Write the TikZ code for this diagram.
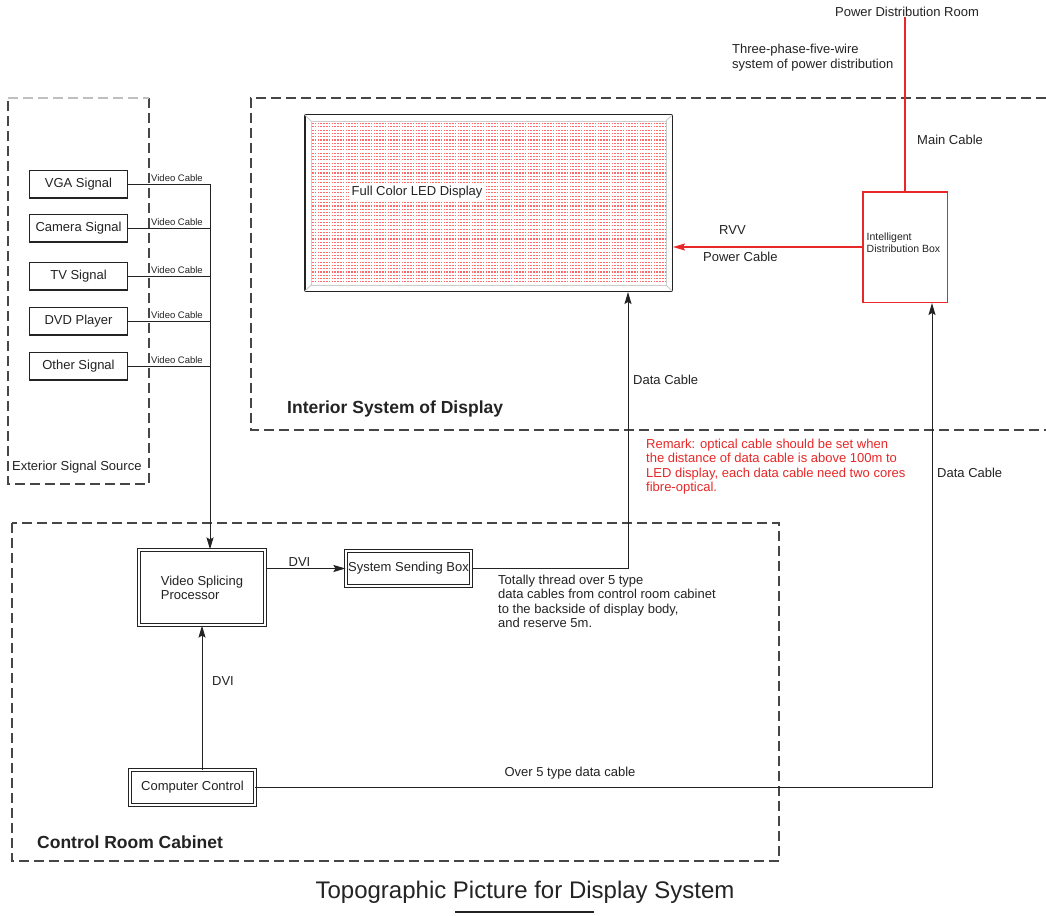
\documentclass[tikz,border=0pt]{standalone}
\usepackage{fontspec}
\setmainfont{Liberation Sans}
\usetikzlibrary{arrows.meta}
\definecolor{rd}{RGB}{232,40,40}
\definecolor{dk}{RGB}{35,35,35}
\definecolor{dsh}{RGB}{70,70,70}
\definecolor{ledred}{RGB}{255,105,105}
\begin{document}
\begin{tikzpicture}[x=1pt,y=-1pt,
  every node/.style={font=\fontsize{13}{14.3}\selectfont, inner sep=0pt, text=dk},
  sig/.style={draw=dk, line width=1.2pt, minimum width=97.8pt, minimum height=27.8pt},
  dbox/.style={draw=dk, double=white, line width=1pt, double distance=1.8pt},
  zone/.style={draw=dsh, line width=1.6pt, dash pattern=on 10pt off 5pt},
  wire/.style={draw=dk, line width=1pt},
  tip/.style={-{Stealth[length=12pt,width=7pt,inset=2pt]}},
  arr/.style={wire, tip},
  small/.style={font=\fontsize{9.5}{11}\selectfont},
  zlabel/.style={font=\fontsize{17.5}{20}\selectfont\bfseries, anchor=west},
  rtxt/.style={text=rd}
]
\useasboundingbox (0,0) rectangle (1046,915);
\fill[white] (0,0) rectangle (1046,915);

% zones
\draw[zone] (1046,98) -- (251,98) -- (251,430) -- (1046,430);
\draw[zone] (12,523) rectangle (779,861);
\draw[zone] (149,98) -- (149,484) -- (8,484) -- (8,98);
\draw[zone, draw=black!25] (8,98) -- (149,98);

% LED display
\node[draw=dk, line width=1.5pt, minimum width=367.5pt, minimum height=176.5pt] (led) at (488.5,203) {};
\foreach \yy in {123.5,126.8,...,284}
  \draw[ledred, line width=1.15pt, dash pattern=on 1.5pt off 1.3pt] (312,\yy) -- (665,\yy);
\draw[black!20, line width=0.8pt] (311,121) rectangle (666,285);
\draw[black!20, line width=0.8pt] (304,114) -- (311,121) (673,114) -- (666,121)
  (304,292) -- (311,285) (673,292) -- (666,285);
\node[fill=white, inner sep=2.5pt, anchor=west] (ledtxt) at (349,192) {Full Color LED Display};

% signal sources
\node[sig] (vga) at (78.5,184) {VGA Signal};
\node[sig] (cam) at (78.5,228) {Camera Signal};
\node[sig] (tv) at (78.5,276) {TV Signal};
\node[sig] (dvd) at (78.5,321) {DVD Player};
\node[sig] (oth) at (78.5,366) {Other Signal};
\coordinate (bus) at (210,0);

% control room
\node[dbox, minimum width=126.2pt, minimum height=75.2pt, align=left] (vsp) at (202,587.5) {Video Splicing\\Processor};
\node[dbox, minimum width=125.2pt, minimum height=35.2pt] (ssb) at (408.5,568.5) {System Sending Box};
\node[dbox, line width=1.3pt, minimum width=124.6pt, minimum height=34.6pt] (cc) at (192.5,787.5) {Computer Control};

% distribution
\node (pdr) at (907,12) {Power Distribution Room};
\node[draw=rd, line width=1.5pt, minimum width=84.5pt, minimum height=110.5pt] (idb) at (905,247) {};
\node[font=\fontsize{10.5}{12}\selectfont, align=left, anchor=west] (idbtxt) at ([shift={(4.5pt,4.5pt)}]idb.west) {Intelligent\\Distribution Box};

% video cables
\foreach \s in {vga,cam,tv,dvd,oth}{
  \draw[wire] (\s.east) -- (\s.east -| bus);
  \node[small, anchor=south west] at ([shift={(23pt,2pt)}]\s.east) {Video Cable};
}
\draw[arr] (vga.east -| bus) -- (bus |- vsp.north);

% connectors
\draw[arr] (vsp.east |- ssb.west) -- (ssb.west);
\draw[arr] (vsp.south |- cc.north) -- (vsp.south);
\coordinate (dcx) at (628,0);
\draw[arr] (ssb.east) -| (dcx |- led.south);
\coordinate (dcx2) at (932,0);
\draw[arr] (cc.east) -| (dcx2 |- idb.south);
\draw[rd, line width=1.5pt] (idb.north |- pdr.south) -- (idb.north);
\draw[rd, line width=1.5pt, tip] (idb.west) -- (idb.west -| led.east);

% labels
\node[anchor=west, align=left] at (732,57.5) {Three-phase-five-wire\\system of power distribution};
\node[anchor=west] at (917,140) {Main Cable};
\node[anchor=west] at (719,230) {RVV};
\node[anchor=west] at (703,257) {Power Cable};
\node[anchor=west] at (633,380) {Data Cable};
\node[anchor=west] at (937,473) {Data Cable};
\node at (299.5,562) {DVI};
\node at (223,681) {DVI};
\node at (570,773) {Over 5 type data cable};
\node[anchor=north west, align=left, rtxt] at (646,439) {Remark: optical cable should be set when\\the distance of data cable is above 100m to\\LED display, each data cable need two cores\\fibre-optical.};
\node[anchor=north west, align=left] at (498,575) {Totally thread over 5 type\\data cables from control room cabinet\\to the backside of display body,\\and reserve 5m.};
\node[zlabel] at (287,409) {Interior System of Display};
\node[zlabel] at (37,842) {Control Room Cabinet};
\node[anchor=west] at (12,467) {Exterior Signal Source};

% title
\node[font=\fontsize{24}{28}\selectfont] (title) at (525,892) {Topographic Picture for Display System};
\draw[dk, line width=1.5pt] (455,912) -- (594,912);
\end{tikzpicture}
\end{document}
